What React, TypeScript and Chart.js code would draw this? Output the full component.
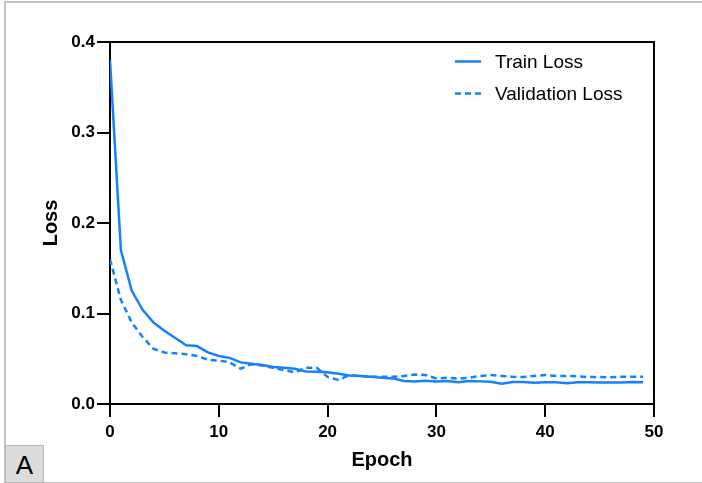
import React, { useEffect, useRef } from "react";
import { Chart, registerables } from "chart.js";

Chart.register(...registerables);

const epochs: number[] = Array.from({ length: 50 }, (_, i) => i);

const trainLoss: number[] = [
  0.38, 0.17, 0.125, 0.104, 0.09, 0.081, 0.073, 0.065, 0.064, 0.057,
  0.053, 0.051, 0.046, 0.0445, 0.043, 0.041, 0.04, 0.039, 0.036, 0.0355,
  0.035, 0.0335, 0.0316, 0.031, 0.03, 0.029, 0.0283, 0.0255, 0.0248, 0.0258,
  0.025, 0.0254, 0.024, 0.0254, 0.025, 0.0247, 0.0225, 0.0243, 0.0243, 0.0236,
  0.024, 0.024, 0.023, 0.024, 0.024, 0.0237, 0.0237, 0.0237, 0.0243, 0.024,
];

const valLoss: number[] = [
  0.16, 0.115, 0.09, 0.074, 0.061, 0.057, 0.056, 0.055, 0.053, 0.049,
  0.048, 0.046, 0.039, 0.044, 0.0425, 0.04, 0.0375, 0.035, 0.04, 0.04,
  0.03, 0.0265, 0.032, 0.031, 0.03, 0.03, 0.03, 0.031, 0.0325, 0.032,
  0.0283, 0.029, 0.028, 0.029, 0.031, 0.032, 0.031, 0.03, 0.0298, 0.031,
  0.032, 0.031, 0.031, 0.0305, 0.0298, 0.0298, 0.0295, 0.03, 0.03, 0.03,
];

const seriesNames: string[] = ["Train Loss", "Validation Loss"];
const xTicks: number[] = [0, 10, 20, 30, 40, 50];
const yTicks: number[] = [0, 0.1, 0.2, 0.3, 0.4];

const BLUE = "rgb(20,130,250)";
const FONT = "Arial, 'Liberation Sans', Helvetica, sans-serif";

const boxAndLegend = {
  id: "boxAndLegend",
  afterDraw(chart: any) {
    const { ctx, chartArea } = chart;
    ctx.save();
    ctx.strokeStyle = "#000";
    ctx.lineWidth = 2;
    ctx.beginPath();
    ctx.moveTo(chartArea.left, chartArea.top);
    ctx.lineTo(chartArea.right, chartArea.top);
    ctx.lineTo(chartArea.right, chartArea.bottom);
    ctx.stroke();

    const items = chart.data.datasets;
    const x0 = 455;
    const x1 = 481;
    const tx = 495;
    const ys = [61.5, 93.5];
    ctx.font = `19px ${FONT}`;
    ctx.textBaseline = "middle";
    ctx.fillStyle = "#000";
    items.forEach((ds: any, i: number) => {
      ctx.beginPath();
      ctx.strokeStyle = ds.borderColor;
      ctx.lineWidth = ds.borderWidth;
      ctx.setLineDash(ds.borderDash || []);
      ctx.moveTo(x0, ys[i]);
      ctx.lineTo(x1, ys[i]);
      ctx.stroke();
      ctx.setLineDash([]);
      ctx.fillText(ds.label, tx, ys[i] + 1);
    });
    ctx.restore();
  },
};

export default function App() {
  const ref = useRef<HTMLCanvasElement | null>(null);

  useEffect(() => {
    if (!ref.current) return;
    const chart = new Chart(ref.current, {
      type: "line",
      data: {
        datasets: [
          {
            label: seriesNames[0],
            data: epochs.map((e, i) => ({ x: e, y: trainLoss[i] })),
            borderColor: BLUE,
            backgroundColor: BLUE,
            borderWidth: 2.5,
            pointRadius: 0,
            tension: 0,
          },
          {
            label: seriesNames[1],
            data: epochs.map((e, i) => ({ x: e, y: valLoss[i] })),
            borderColor: BLUE,
            backgroundColor: BLUE,
            borderWidth: 2.5,
            borderDash: [6, 4],
            pointRadius: 0,
            tension: 0,
          },
        ],
      },
      options: {
        animation: false,
        responsive: false,
        maintainAspectRatio: false,
        layout: { padding: { left: 0, top: 42, right: 48, bottom: 0 } },
        plugins: {
          legend: { display: false },
          tooltip: { enabled: false },
        },
        scales: {
          x: {
            type: "linear",
            min: 0,
            max: 50,
            afterFit(scale: any) {
              scale.height = 79;
            },
            afterBuildTicks(scale: any) {
              scale.ticks = xTicks.map((v) => ({ value: v }));
            },
            ticks: {
              color: "#000",
              font: { family: FONT, size: 17, weight: "bold" },
              padding: 5,
              maxRotation: 0,
            },
            grid: {
              drawOnChartArea: false,
              drawTicks: true,
              tickLength: 13,
              color: "#000",
              lineWidth: 2,
            },
            border: { display: true, color: "#000", width: 2 },
            title: {
              display: true,
              text: "Epoch",
              color: "#000",
              font: { family: FONT, size: 20, weight: "bold" },
              padding: { top: 0, bottom: 10.5 },
            },
          },
          y: {
            type: "linear",
            min: 0,
            max: 0.4,
            afterFit(scale: any) {
              scale.width = 110;
            },
            afterBuildTicks(scale: any) {
              scale.ticks = yTicks.map((v) => ({ value: v }));
            },
            ticks: {
              color: "#000",
              font: { family: FONT, size: 17, weight: "bold" },
              padding: 2,
              callback: (v: any) => Number(v).toFixed(1),
            },
            grid: {
              drawOnChartArea: false,
              drawTicks: true,
              tickLength: 13,
              color: "#000",
              lineWidth: 2,
            },
            border: { display: true, color: "#000", width: 2 },
            title: {
              display: true,
              text: "Loss",
              color: "#000",
              font: { family: FONT, size: 20, weight: "bold" },
              padding: { top: 39, bottom: 0 },
            },
          },
        },
      },
      plugins: [boxAndLegend],
    } as any);
    return () => chart.destroy();
  }, []);

  return (
    <div
      style={{
        position: "fixed",
        left: 0,
        top: 0,
        width: 702,
        height: 483,
        overflow: "hidden",
        background: "#fff",
      }}
    >
      <canvas
        ref={ref}
        width={702}
        height={483}
        style={{ position: "absolute", left: 0, top: 0, width: 702, height: 483 }}
      />
      <div
        style={{
          position: "absolute",
          left: 4,
          top: 1,
          width: 710,
          height: 479,
          border: "2px solid #c4c4c4",
          pointerEvents: "none",
        }}
      />
      <div
        style={{
          position: "absolute",
          left: 5,
          top: 445,
          width: 37,
          height: 36,
          background: "#dcdcdc",
          border: "1px solid #b8b8b8",
          fontFamily: FONT,
          fontSize: 26,
          lineHeight: "38px",
          textAlign: "center",
          color: "#000",
        }}
      >
        A
      </div>
    </div>
  );
}
